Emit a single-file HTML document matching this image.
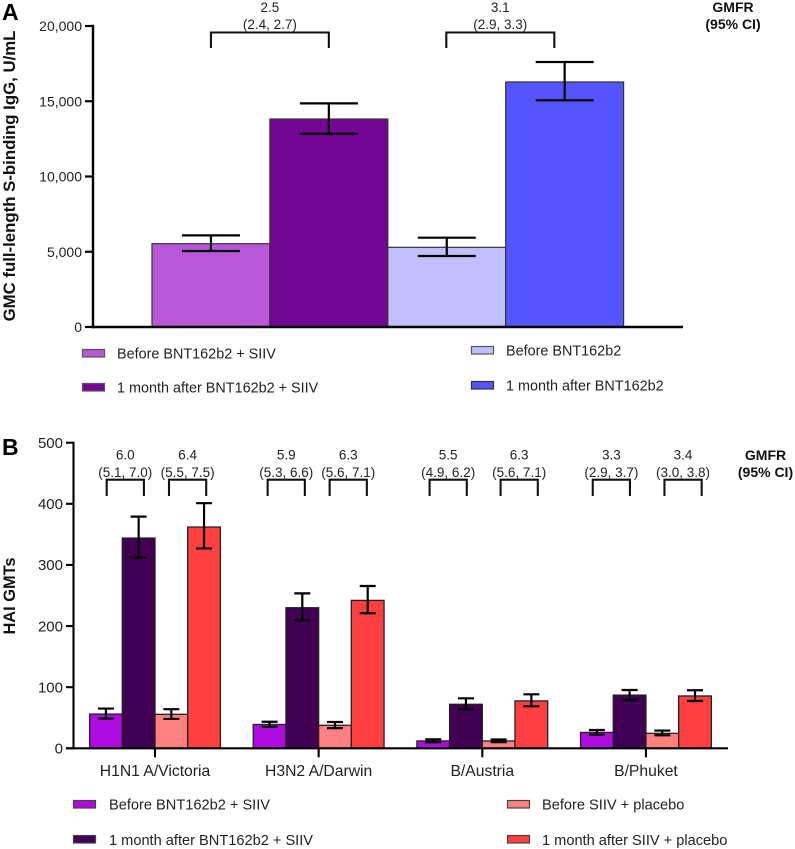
<!DOCTYPE html>
<html lang="en">
<head>
<meta charset="utf-8">
<title>GMC and HAI GMT bar charts</title>
<style>
  html, body { margin: 0; padding: 0; background: #fff; }
  body { width: 795px; height: 849px; overflow: hidden; }
  svg { display: block; font-family: "Liberation Sans", Arial, sans-serif; fill: #222; }
  text { white-space: pre; }
</style>
</head>
<body>
<svg id="figure" width="795" height="849" viewBox="0 0 795 849" xmlns="http://www.w3.org/2000/svg">
  <text x="2" y="20" font-size="23" font-weight="700" fill="#000">A</text>
  <text x="2" y="455" font-size="23" font-weight="700" fill="#000">B</text>

  <text transform="translate(15,176) rotate(-90)" text-anchor="middle" font-size="16.8" font-weight="700" fill="#111">GMC full-length S-binding IgG, U/mL</text>
  <text transform="translate(15,596) rotate(-90)" text-anchor="middle" font-size="16.4" font-weight="700" fill="#111">HAI GMTs</text>

  <g>
    <text x="733" y="12" text-anchor="middle" font-size="14" font-weight="700" fill="#111">GMFR</text>
    <text x="733" y="29" text-anchor="middle" font-size="14" font-weight="700" fill="#111">(95% CI)</text>
  </g>
  <g>
    <text x="765.5" y="460" text-anchor="middle" font-size="14" font-weight="700" fill="#111">GMFR</text>
    <text x="765.5" y="477" text-anchor="middle" font-size="14" font-weight="700" fill="#111">(95% CI)</text>
  </g>

  <g font-size="14.4" fill="#222">
    <g>
      <rect x="82.5" y="349.5" width="22" height="7.5" fill="#B857D8" stroke="#555" stroke-width="1.2"/>
      <text x="117" y="358.5">Before BNT162b2 + SIIV</text>
    </g>
    <g>
      <rect x="82.5" y="383.5" width="22" height="7.5" fill="#730692" stroke="#555" stroke-width="1.2"/>
      <text x="117" y="392.5">1 month after BNT162b2 + SIIV</text>
    </g>
    <g>
      <rect x="471.5" y="346.5" width="22" height="7.5" fill="#C2BFFF" stroke="#555" stroke-width="1.2"/>
      <text x="506" y="355.5">Before BNT162b2</text>
    </g>
    <g>
      <rect x="471.5" y="381.5" width="22" height="7.5" fill="#5555FF" stroke="#333" stroke-width="1.2"/>
      <text x="506" y="390.5">1 month after BNT162b2</text>
    </g>
  </g>

  <g font-size="14.6" fill="#222">
    <g>
      <rect x="73.5" y="800.5" width="22" height="7.5" fill="#AD0BE0" stroke="#444" stroke-width="1.2"/>
      <text x="109" y="809.5">Before BNT162b2 + SIIV</text>
    </g>
    <g>
      <rect x="73.5" y="835.5" width="22" height="7.5" fill="#420055" stroke="#444" stroke-width="1.2"/>
      <text x="109" y="845">1 month after BNT162b2 + SIIV</text>
    </g>
    <g>
      <rect x="507.5" y="800.5" width="22" height="7.5" fill="#FF8080" stroke="#444" stroke-width="1.2"/>
      <text x="542" y="809.5">Before SIIV + placebo</text>
    </g>
    <g>
      <rect x="507.5" y="835.5" width="22" height="7.5" fill="#FF4040" stroke="#444" stroke-width="1.2"/>
      <text x="542" y="845">1 month after SIIV + placebo</text>
    </g>
  </g>
</svg>

<script>
// ---------- Panel A data ----------
const aSeriesNames = ['before-bnt-siiv', 'after-bnt-siiv', 'before-bnt', 'after-bnt'];
const aValues = [5535, 13820, 5295, 16280];
const aUpper = [6090, 14860, 5933, 17608];
const aLower = [5050, 12843, 4718, 15063];
const aTicks = [0, 5000, 10000, 15000, 20000];
const aTickLabels = ['0', '5,000', '10,000', '15,000', '20,000'];
const aGmfr = ['2.5', '3.1'];
const aGmfrCi = ['(2.4, 2.7)', '(2.9, 3.3)'];

// ---------- Panel B data ----------
const bCategories = ['H1N1 A/Victoria', 'H3N2 A/Darwin', 'B/Austria', 'B/Phuket'];
const bSeriesNames = ['before-bnt-siiv', 'after-bnt-siiv', 'before-siiv-placebo', 'after-siiv-placebo'];
const bBeforeCombo = [56, 39, 12, 26];
const bBeforeComboUpper = [65, 43.5, 14.7, 30];
const bBeforeComboLower = [48.5, 35, 9.8, 22.3];
const bAfterCombo = [344, 230, 72, 87];
const bAfterComboUpper = [379, 253.5, 81.8, 95.4];
const bAfterComboLower = [312, 209.5, 63.8, 79];
const bBeforePlacebo = [55.6, 37.6, 12, 24.5];
const bBeforePlaceboUpper = [64, 43, 14.4, 29];
const bBeforePlaceboLower = [48, 33, 10, 21.3];
const bAfterPlacebo = [362, 242, 77.5, 85.6];
const bAfterPlaceboUpper = [401, 265.6, 88.3, 95];
const bAfterPlaceboLower = [327, 221, 68.7, 77.4];
const bTicks = [0, 100, 200, 300, 400, 500];
const bTickLabels = ['0', '100', '200', '300', '400', '500'];
const bGmfr = ['6.0', '6.4', '5.9', '6.3', '5.5', '6.3', '3.3', '3.4'];
const bGmfrCi = ['(5.1, 7.0)', '(5.5, 7.5)', '(5.3, 6.6)', '(5.6, 7.1)', '(4.9, 6.2)', '(5.6, 7.1)', '(2.9, 3.7)', '(3.0, 3.8)'];

// ---------- Styling (not data) ----------
const aColors = ['#B857D8', '#730692', '#C2BFFF', '#5555FF'];
const bColors = ['#AD0BE0', '#420055', '#FF8080', '#FF4040'];

const svg = document.getElementById('figure');
const NS = 'http://www.w3.org/2000/svg';

function shape(parent, tag, attrs, text) {
  const node = document.createElementNS(NS, tag);
  for (const key in attrs) node.setAttribute(key, attrs[key]);
  if (text !== undefined) node.textContent = text;
  parent.appendChild(node);
  return node;
}

// ---------- Axis functions ----------
function yA(v) { return 327 - (v / 20000) * 301; }
function xA(i) { return 152 + i * 117.9; }
const aBarWidth = 117.9;
function yB(v) { return 748.3 - (v / 500) * 305.6; }
function groupCenterB(g) { return 155 + g * 163.65; }
const bBarWidth = 32.7;
function xB(g, s) { return groupCenterB(g) + (s - 2) * bBarWidth; }

function drawErrorBar(parent, cx, hi, lo, capHalf, width) {
  const d = 'M' + (cx - capHalf) + ' ' + hi + 'H' + (cx + capHalf) +
            'M' + cx + ' ' + hi + 'V' + lo +
            'M' + (cx - capHalf) + ' ' + lo + 'H' + (cx + capHalf);
  return shape(parent, 'path', { d: d, fill: 'none', stroke: '#000', 'stroke-width': width });
}

function drawBracket(parent, x1, x2, top, bottom, value, ci, y1, y2, size) {
  const path = shape(parent, 'path', {
    d: 'M' + x1 + ' ' + bottom + 'V' + top + 'H' + x2 + 'V' + bottom,
    fill: 'none', stroke: '#111', 'stroke-width': 2.1
  });
  
  
  const mid = (x1 + x2) / 2;
  const t1 = shape(parent, 'text', { x: mid, y: y1, 'text-anchor': 'middle', 'font-size': size, fill: '#222' }, value);
  
  
  const t2 = shape(parent, 'text', { x: mid, y: y2, 'text-anchor': 'middle', 'font-size': size, fill: '#222' }, ci);
  
  
}

// ---------- Panel A ----------
const panelA = shape(svg, 'g', {});



aValues.forEach(function (v, i) {
  const bar = shape(panelA, 'rect', {
    x: xA(i), y: yA(v), width: aBarWidth, height: yA(0) - yA(v),
    fill: aColors[i], stroke: '#333', 'stroke-width': 1.2
  });
  
  
});
aValues.forEach(function (v, i) {
  const err = drawErrorBar(panelA, xA(i) + aBarWidth / 2, yA(aUpper[i]), yA(aLower[i]), 29, 2.2);
  
  
});

const axisAY = shape(panelA, 'line', { x1: 93, x2: 93, y1: yA(20000) - 1.2, y2: yA(0) + 1.2, stroke: '#000', 'stroke-width': 2.4 });


const axisAX = shape(panelA, 'line', { x1: 92, x2: 683, y1: yA(0), y2: yA(0), stroke: '#000', 'stroke-width': 2.4 });



aTicks.forEach(function (t, i) {
  const tick = shape(panelA, 'line', { x1: 85, x2: 93, y1: yA(t), y2: yA(t), stroke: '#000', 'stroke-width': 2.2 });
  
  
  const label = shape(panelA, 'text', { x: 82, y: yA(t) + 5, 'text-anchor': 'end', 'font-size': 14, fill: '#222' }, aTickLabels[i]);
  
  
});

aGmfr.forEach(function (val, i) {
  const g = shape(panelA, 'g', {});
  
  
  const left = i === 0 ? xA(0) + aBarWidth / 2 : 446.3;
  const right = i === 0 ? xA(1) + aBarWidth / 2 : 554.3;
  drawBracket(g, left, right, 32.5, 48, val, aGmfrCi[i], 12, 29, 13.5);
});

// ---------- Panel B ----------
const panelB = shape(svg, 'g', {});



const bMeans = [bBeforeCombo, bAfterCombo, bBeforePlacebo, bAfterPlacebo];
const bUppers = [bBeforeComboUpper, bAfterComboUpper, bBeforePlaceboUpper, bAfterPlaceboUpper];
const bLowers = [bBeforeComboLower, bAfterComboLower, bBeforePlaceboLower, bAfterPlaceboLower];

bCategories.forEach(function (cat, g) {
  bMeans.forEach(function (series, s) {
    const v = series[g];
    const bar = shape(panelB, 'rect', {
      x: xB(g, s), y: yB(v), width: bBarWidth, height: yB(0) - yB(v),
      fill: bColors[s], stroke: '#222', 'stroke-width': 1.3
    });
    
    
  });
});
bCategories.forEach(function (cat, g) {
  bMeans.forEach(function (series, s) {
    const err = drawErrorBar(panelB, xB(g, s) + bBarWidth / 2, yB(bUppers[s][g]), yB(bLowers[s][g]), 8, 2.2);
    
    
  });
});

const axisBY = shape(panelB, 'line', { x1: 73.5, x2: 73.5, y1: yB(500) - 1, y2: yB(0) + 1, stroke: '#000', 'stroke-width': 2.1 });


const axisBX = shape(panelB, 'line', { x1: 66, x2: 728, y1: yB(0), y2: yB(0), stroke: '#000', 'stroke-width': 2.1 });



bTicks.forEach(function (t, i) {
  const tick = shape(panelB, 'line', { x1: 66, x2: 73.5, y1: yB(t), y2: yB(t), stroke: '#000', 'stroke-width': 2.1 });
  
  
  const label = shape(panelB, 'text', { x: 63, y: yB(t) + 5.3, 'text-anchor': 'end', 'font-size': 15, fill: '#222' }, bTickLabels[i]);
  
  
});

bCategories.forEach(function (cat, g) {
  const tick = shape(panelB, 'line', { x1: groupCenterB(g), x2: groupCenterB(g), y1: yB(0), y2: yB(0) + 9, stroke: '#000', 'stroke-width': 2.1 });
  
  
  const label = shape(panelB, 'text', { x: groupCenterB(g), y: 776, 'text-anchor': 'middle', 'font-size': 15.7, fill: '#222' }, cat);
  
  
});

// Bracket layout: left edge of each bracket relative to its group centre
const bBracketOffsets = [-48.3, 14, -51, 11, -52.7, 18.3, -53.2, 18.5];
const bBracketSpan = 37.2;
bGmfr.forEach(function (val, i) {
  const g = shape(panelB, 'g', {});
  
  
  const left = groupCenterB(Math.floor(i / 2)) + bBracketOffsets[i];
  drawBracket(g, left, left + bBracketSpan, 479.7, 496, val, bGmfrCi[i], 459.7, 477, 13.5);
});
</script>
</body>
</html>
